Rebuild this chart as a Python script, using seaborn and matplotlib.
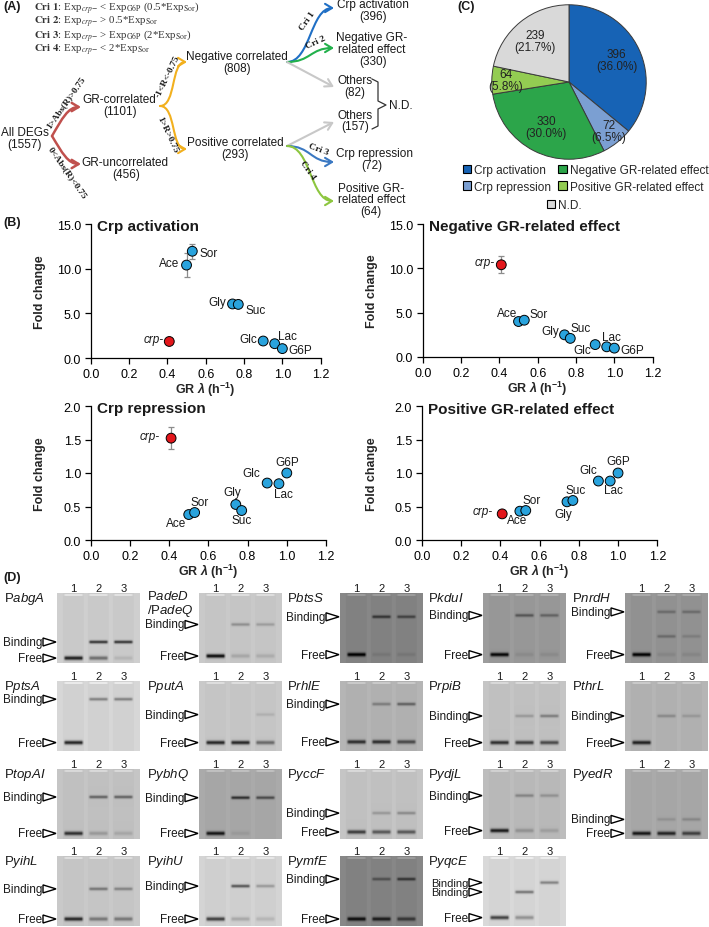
import numpy as np
import pandas as pd
import matplotlib
matplotlib.use('Agg')
import matplotlib.pyplot as plt
import seaborn as sns
from matplotlib.patches import FancyArrowPatch, Polygon, Patch
from matplotlib.path import Path
from matplotlib.ticker import FormatStrFormatter

sns.set_theme(style='ticks')
plt.rcParams['font.family'] = ['Liberation Sans', 'DejaVu Sans']
plt.rcParams['mathtext.fontset'] = 'custom'
plt.rcParams['mathtext.rm'] = 'Liberation Sans'
plt.rcParams['mathtext.it'] = 'Liberation Sans:italic'
plt.rcParams['mathtext.bf'] = 'Liberation Sans:bold'
plt.rcParams['mathtext.bfit'] = 'Liberation Sans:italic:bold'

# ---------------- data ----------------
# (A) tree counts
n_all, n_gr_corr, n_gr_uncorr = 1557, 1101, 456
n_neg, n_pos = 808, 293
n_crp_act, n_neg_gr, n_others_neg = 396, 330, 82
n_others_pos, n_crp_rep, n_pos_gr = 157, 72, 64

# (B) scatter data
carbon = ['crp-', 'Ace', 'Sor', 'Gly', 'Suc', 'Glc', 'Lac', 'G6P']
gr_rate = [0.41, 0.50, 0.53, 0.74, 0.77, 0.90, 0.96, 1.00]
fc_crp_act = [1.85, 10.4, 11.95, 6.05, 6.0, 1.9, 1.6, 1.05]
err_crp_act = [0.15, 1.3, 0.85, 0.15, 0.15, 0.1, 0.1, 0.05]
fc_neg_gr = [10.4, 4.0, 4.15, 2.5, 2.1, 1.4, 1.15, 1.0]
err_neg_gr = [0.95, 0.2, 0.2, 0.15, 0.15, 0.1, 0.1, 0.05]
fc_crp_rep = [1.52, 0.38, 0.41, 0.53, 0.44, 0.85, 0.84, 1.0]
err_crp_rep = [0.16, 0.03, 0.03, 0.03, 0.03, 0.03, 0.03, 0.02]
fc_pos_gr = [0.39, 0.43, 0.44, 0.57, 0.59, 0.88, 0.88, 1.0]
err_pos_gr = [0.04, 0.03, 0.03, 0.03, 0.03, 0.03, 0.03, 0.02]

# (C) pie
pie_cats = ['Crp activation', 'Crp repression', 'Negative GR-related effect',
            'Positive GR-related effect', 'N.D.']
pie_counts = [396, 72, 330, 64, 239]

# (D) gels
gel_names = ['abgA', 'adeD', 'btsS', 'kduI', 'nrdH',
             'ptsA', 'putA', 'rhlE', 'rpiB', 'thrL',
             'topAI', 'ybhQ', 'yccF', 'ydjL', 'yedR',
             'yihL', 'yihU', 'ymfE', 'yqcE']
gel_bg = [0.80, 0.78, 0.52, 0.60, 0.58,
          0.83, 0.78, 0.70, 0.76, 0.70,
          0.76, 0.66, 0.76, 0.73, 0.66,
          0.78, 0.82, 0.52, 0.84]
gel_free_pos = [0.93, 0.90, 0.88, 0.88, 0.88,
                0.88, 0.88, 0.87, 0.88, 0.88,
                0.92, 0.92, 0.90, 0.88, 0.92,
                0.90, 0.90, 0.90, 0.88]
gel_free_int = [[0.65, 0.35, 0.08], [0.7, 0.12, 0.1], [0.5, 0.05, 0.05], [0.55, 0.05, 0.05], [0.55, 0.05, 0.05],
                [0.65, 0.0, 0.0], [0.6, 0.6, 0.35], [0.5, 0.5, 0.4], [0.55, 0.5, 0.45], [0.55, 0.0, 0.0],
                [0.55, 0.15, 0.1], [0.55, 0.05, 0.0], [0.5, 0.4, 0.4], [0.6, 0.15, 0.1], [0.55, 0.5, 0.4],
                [0.6, 0.3, 0.3], [0.55, 0.15, 0.1], [0.45, 0.4, 0.3], [0.55, 0.25, 0.0]]
# (position, lane intensities, has label)
gel_bind = [[(0.70, [0, 0.55, 0.55], True)],
            [(0.45, [0, 0.2, 0.15], True)],
            [(0.34, [0, 0.3, 0.25], True)],
            [(0.32, [0, 0.25, 0.2], True)],
            [(0.27, [0, 0.15, 0.15], True), (0.62, [0, 0.15, 0.08], False)],
            [(0.26, [0, 0.3, 0.3], True)],
            [(0.48, [0, 0.0, 0.08], True)],
            [(0.33, [0, 0.2, 0.3], True)],
            [(0.50, [0, 0.15, 0.25], True)],
            [(0.50, [0, 0.15, 0.1], True)],
            [(0.40, [0, 0.35, 0.35], True)],
            [(0.41, [0, 0.45, 0.35], True)],
            [(0.63, [0, 0.15, 0.2], True)],
            [(0.38, [0, 0.2, 0.15], True)],
            [(0.72, [0, 0.08, 0.12], True)],
            [(0.47, [0, 0.3, 0.25], True)],
            [(0.43, [0, 0.45, 0.2], True)],
            [(0.33, [0, 0.2, 0.3], True)],
            [(0.38, [0, 0.0, 0.3], True), (0.515, [0, 0.35, 0.0], True)]]
lane_labels = ['1', '2', '3']

# ---------------- figure ----------------
W, H = 709, 928
fig = plt.figure(figsize=(W / 100, H / 100), dpi=100)


def fa(x0, y0, x1, y1):
    return [x0 / W, 1 - y1 / H, (x1 - x0) / W, (y1 - y0) / H]


ov = fig.add_axes([0, 0, 1, 1])
ov.set_xlim(0, W)
ov.set_ylim(H, 0)
ov.axis('off')

TXT = '#1a1a1a'
for lab, (x, y) in {'(A)': (3, 7), '(B)': (3, 223), '(C)': (457, 7), '(D)': (3, 578)}.items():
    ov.text(x, y, lab, fontsize=9, fontweight='bold', va='center', ha='left', color=TXT)

# ---- (A) criteria
cri_lines = [r'$\mathbf{Cri\ 1}$: Exp$_{\mathit{crp}\mathrm{-}}$ < Exp$_{\mathrm{G6P}}$ (0.5*Exp$_{\mathrm{Sor}}$)',
             r'$\mathbf{Cri\ 2}$: Exp$_{\mathit{crp}\mathrm{-}}$ > 0.5*Exp$_{\mathrm{Sor}}$',
             r'$\mathbf{Cri\ 3}$: Exp$_{\mathit{crp}\mathrm{-}}$ > Exp$_{\mathrm{G6P}}$ (2*Exp$_{\mathrm{Sor}}$)',
             r'$\mathbf{Cri\ 4}$: Exp$_{\mathit{crp}\mathrm{-}}$ < 2*Exp$_{\mathrm{Sor}}$']
for i, s in enumerate(cri_lines):
    ov.text(34, 8 + 14 * i, s, fontsize=7.8, family='Liberation Serif', math_fontfamily='stix',
            va='center', ha='left', color='#333333')


def arrow(p0, p1, color, kind='s', lw=1.5):
    (x0, y0), (x1, y1) = p0, p1
    dx, dy = x1 - x0, y1 - y0
    if kind == 's':
        verts = [(x0, y0), (x0 + 0.5 * dx, y0), (x1 - 0.5 * dx, y1), (x1, y1)]
    elif kind == 'v':
        verts = [(x0, y0), (x0 + 0.35 * dx, y0 + 0.6 * dy), (x1 - 0.45 * dx, y1), (x1, y1)]
    elif kind == 'b':
        verts = [(x0, y0), (x0 + 0.6 * dx, y0), (x0 + 0.4 * dx, y1), (x1, y1)]
    else:
        verts = [(x0, y0), (x0 + dx / 3, y0 + dy / 3), (x0 + 2 * dx / 3, y0 + 2 * dy / 3), (x1, y1)]
    path = Path(verts, [Path.MOVETO, Path.CURVE4, Path.CURVE4, Path.CURVE4])
    ov.add_patch(FancyArrowPatch(path=path, arrowstyle='->,head_length=0.5,head_width=0.3',
                                 mutation_scale=10, color=color, lw=lw))


RED, ORG = '#c0504d', '#f2b01e'
BLU, GRN, GRY, BLU2, LGR = '#1f6fc5', '#22b14c', '#c8c8c8', '#3a78c2', '#8dc63f'
arrow((52, 137), (81, 108), RED, 'v', 1.8)
arrow((52, 137), (81, 165), RED, 'v', 1.8)
arrow((160, 107), (187, 63), ORG, 'b')
arrow((160, 107), (187, 150), ORG, 'b')
arrow((287, 63), (334, 9), BLU, 's')
arrow((287, 63), (334, 49), GRN, 's')
arrow((287, 63), (334, 88), GRY, 'l')
arrow((287, 147), (334, 123), GRY, 'l')
arrow((287, 147), (334, 163), BLU2, 's')
arrow((287, 147), (334, 202), LGR, 's')

serif_b = dict(family='Liberation Serif', fontweight='bold', fontsize=6.8, ha='center', va='center',
               rotation_mode='anchor', color=TXT)
ov.text(66, 103, '1>Abs(R)>0.75', rotation=55, **serif_b)
ov.text(67, 173, '0<Abs(R)<0.75', rotation=-55, **serif_b)
ov.text(168, 77, '-1<R<-0.75', rotation=64, **serif_b)
ov.text(167, 135, '1>R>0.75', rotation=-65, **serif_b)
ov.text(307, 21, 'Cri 1', rotation=55, **serif_b)
ov.text(316, 43, 'Cri 2', rotation=25, **serif_b)
ov.text(318, 150, 'Cri 3', rotation=-20, **serif_b)
ov.text(308, 170, 'Cri 4', rotation=-55, **serif_b)

tree_txt = [(25, 133, 'All DEGs'), (25, 145, f'({n_all})'),
            (119, 100, 'GR-correlated'), (120, 112, f'({n_gr_corr})'),
            (125, 163, 'GR-uncorrelated'), (126, 175, f'({n_gr_uncorr})'),
            (237, 57, 'Negative correlated'), (237, 69, f'({n_neg})'),
            (235, 143, 'Positive correlated'), (235, 155, f'({n_pos})'),
            (373, 5, 'Crp activation'), (373, 17, f'({n_crp_act})'),
            (372, 38, 'Negative GR-'), (372, 50, 'related effect'), (373, 62, f'({n_neg_gr})'),
            (355, 81, 'Others'), (355, 93, f'({n_others_neg})'),
            (355, 116, 'Others'), (355, 127, f'({n_others_pos})'),
            (375, 154, 'Crp repression'), (372, 166, f'({n_crp_rep})'),
            (371, 189, 'Positive GR-'), (372, 200, 'related effect'), (371, 212, f'({n_pos_gr})')]
for x, y, s in tree_txt:
    ov.text(x, y, s, fontsize=8.5, ha='center', va='center', color=TXT)
ov.plot([372, 378, 378, 386, 378, 378, 372], [80, 83, 102, 106, 110, 127, 130], color='#333333', lw=0.9)
ov.text(389, 106, 'N.D.', fontsize=8.5, ha='left', va='center', color=TXT)

# ---- (C) pie
pie_colors = ['#1763b5', '#7b9fd2', '#2ca54a', '#93cc52', '#d9d9d9']
axp = fig.add_axes(fa(491, 5, 647, 161))
wedges, _ = axp.pie(pie_counts, colors=pie_colors, startangle=90, counterclock=False,
                    wedgeprops=dict(edgecolor='#3a3a3a', linewidth=0.7))
axp.set_xlim(-1.01, 1.01)
axp.set_ylim(-1.01, 1.01)
label_r = [0.68, 0.82, 0.65, 0.82, 0.69]
tot = sum(pie_counts)
for w, c, r in zip(wedges, pie_counts, label_r):
    ang = np.deg2rad((w.theta1 + w.theta2) / 2)
    axp.text(r * np.cos(ang), r * np.sin(ang), f'{c}\n({100 * c / tot:.1f}%)', ha='center', va='center',
             fontsize=8.5, linespacing=1.0, color='#222222')
handles = [Patch(facecolor=col, edgecolor='black', linewidth=0.8) for col in pie_colors]
fig.legend([handles[0], handles[1], handles[2], handles[3]],
           [pie_cats[0], pie_cats[1], pie_cats[2], pie_cats[3]], ncol=2, loc='upper left',
           bbox_to_anchor=(463 / W, 1 - 165 / H), frameon=False, fontsize=8.5, handlelength=0.7,
           handleheight=0.7, handletextpad=0.25, columnspacing=0.6, borderpad=0, borderaxespad=0,
           labelspacing=0.4)
fig.legend([handles[4]], [pie_cats[4]], loc='upper left', bbox_to_anchor=(547 / W, 1 - 200 / H),
           frameon=False, fontsize=8.5, handlelength=0.7, handleheight=0.7, handletextpad=0.25,
           borderpad=0, borderaxespad=0)

# ---- (B) scatter panels
px2pt = 0.72
offsets = {
    'act': {'crp-': (-6, 2, 'right'), 'Ace': (-7, 2, 'right'), 'Sor': (7, -2, 'left'),
            'Gly': (-6, 2, 'right'), 'Suc': (7, -6, 'left'), 'Glc': (-6, 2, 'right'),
            'Lac': (3, 8, 'left'), 'G6P': (6, -1.5, 'left')},
    'neg': {'crp-': (-7, 2.5, 'right'), 'Ace': (-1, 8.7, 'right'), 'Sor': (5, 6, 'left'),
            'Gly': (-5, 3.4, 'right'), 'Suc': (0, 10, 'left'), 'Glc': (-4.3, -5, 'right'),
            'Lac': (-4.7, 9.4, 'left'), 'G6P': (5.7, -1.7, 'left')},
    'rep': {'crp-': (-11, 2.6, 'right'), 'Ace': (-2.3, -8, 'right'), 'Sor': (5, 11, 'center'),
            'Gly': (-3.7, 12, 'center'), 'Suc': (0, -9.4, 'center'), 'Glc': (-7.4, 10, 'right'),
            'Lac': (4, -10, 'center'), 'G6P': (0, 11, 'center')},
    'pos': {'crp-': (-9.4, 3, 'right'), 'Ace': (-2.5, -8.7, 'center'), 'Sor': (5.7, 11, 'center'),
            'Gly': (-3.3, -11.7, 'center'), 'Suc': (2.5, 10, 'center'), 'Glc': (-1, 11, 'right'),
            'Lac': (3, -9, 'center'), 'G6P': (0, 11.6, 'center')},
}
panels = [('Crp activation', fc_crp_act, err_crp_act, 15, [0, 5, 10, 15], 'act', (90.7, 225, 320.7, 359), 46),
          ('Negative GR-related effect', fc_neg_gr, err_neg_gr, 15, [0, 5, 10, 15], 'neg', (422.7, 225, 652.7, 358), 378),
          ('Crp repression', fc_crp_rep, err_crp_rep, 2, [0, 0.5, 1, 1.5, 2], 'rep', (90.7, 407, 326, 541), 46),
          ('Positive GR-related effect', fc_pos_gr, err_pos_gr, 2, [0, 0.5, 1, 1.5, 2], 'pos', (421.7, 407, 657.3, 541), 378)]

xlabel_str = r'GR $\mathbfit{\lambda}$ (h$^{\mathbf{-1}}$)'

for title, fc, err, ymax, yt, key, box, ylab_x in panels:
    ax = fig.add_axes(fa(*box))
    df = pd.DataFrame({'carbon': carbon, 'gr': gr_rate, 'fc': fc, 'err': err})
    df['group'] = np.where(df['carbon'] == 'crp-', 'crp-', 'WT')
    ax.errorbar(df['gr'], df['fc'], yerr=df['err'], fmt='none', ecolor='#8c8c8c', elinewidth=0.9,
                capsize=2.5, capthick=0.9, zorder=2)
    sns.scatterplot(data=df, x='gr', y='fc', hue='group', palette={'WT': '#29a3dd', 'crp-': '#e3161b'},
                    s=50, edgecolor='black', linewidth=0.7, legend=False, ax=ax, zorder=3)
    for _, r in df.iterrows():
        dx, dy, ha = offsets[key][r['carbon']]
        ax.annotate(r['carbon'], (r['gr'], r['fc']), xytext=(dx * px2pt, dy * px2pt), textcoords='offset points',
                    ha=ha, va='center', fontsize=8.5, color=TXT,
                    fontstyle='italic' if r['carbon'] == 'crp-' else 'normal')
    ax.set_xlim(0, 1.2)
    ax.set_ylim(0, ymax)
    ax.set_xticks([0, 0.2, 0.4, 0.6, 0.8, 1.0, 1.2])
    ax.set_yticks(yt)
    ax.xaxis.set_major_formatter(FormatStrFormatter('%.1f'))
    ax.yaxis.set_major_formatter(FormatStrFormatter('%.1f'))
    ax.tick_params(direction='out', length=4, width=0.9, labelsize=9, colors='black', pad=3)
    for sp in ['left', 'bottom']:
        ax.spines[sp].set_linewidth(0.9)
        ax.spines[sp].set_color('black')
    sns.despine(ax=ax)
    ax.set_facecolor('none')
    ax.set_xlabel(xlabel_str, fontsize=9, fontweight='bold')
    ax.xaxis.set_label_coords(0.5, -22.0 / (box[3] - box[1]))
    ax.set_ylabel('Fold change', fontsize=9, fontweight='bold')
    ax.yaxis.set_label_coords(-(box[0] - ylab_x) / (box[2] - box[0]), 0.5)
    ax.text(6 / (box[2] - box[0]), 1 - 2.5 / (box[3] - box[1]), title, transform=ax.transAxes,
            fontsize=11, fontweight='bold', ha='left', va='center', color=TXT)

# ---- (D) gels
col_x = [57, 199, 340, 483, 625]
row_y = [594, 682, 770, 857]
lab_x = [4, 147, 287, 428, 572]
GW, GH = 83, 70
lane_c = [0.2, 0.5, 0.8]
lane_w = 0.25


def gel_image(bg, free_pos, free_int, binds):
    img = np.full((GH, GW), bg, dtype=float)
    yy = np.arange(GH)[:, None] + 0.5
    xx = (np.arange(GW)[None, :] + 0.5) / GW
    inlane = np.zeros((1, GW), dtype=bool)
    for c in lane_c:
        inlane |= np.abs(xx - c) < lane_w / 2
    img += np.where(inlane, -0.01, 0.01)
    for li, c in enumerate(lane_c):
        m = np.clip(1 - np.abs(xx - c) / (lane_w / 2), 0, 1)
        m = np.clip(m * 4, 0, 1)
        img -= free_int[li] * np.exp(-((yy - free_pos * GH) / 2.0) ** 2) * m
        for pos, ints, _ in binds:
            img -= ints[li] * np.exp(-((yy - pos * GH) / 1.6) ** 2) * m
        img[1:3, :] += 0.10 * m[0]
    return np.clip(img, 0, 1)


def tri(x, y):
    ov.add_patch(Polygon([(x - 14, y - 4), (x - 14, y + 4), (x - 1, y)], closed=True,
                         facecolor='white', edgecolor='black', lw=1.0, zorder=5))


for i, name in enumerate(gel_names):
    r, c = divmod(i, 5)
    gx, gy = col_x[c], row_y[r]
    img = gel_image(gel_bg[i], gel_free_pos[i], gel_free_int[i], gel_bind[i])
    ov.imshow(img, cmap='gray', vmin=0, vmax=1, extent=(gx, gx + GW, gy + GH, gy), aspect='auto',
              interpolation='bilinear', zorder=2)
    for li, lc in enumerate(lane_c):
        ov.text(gx + lc * GW, gy - 5, lane_labels[li], fontsize=8, ha='center', va='center', color=TXT)
    if name == 'adeD':
        ov.text(lab_x[c], gy + 3, r'P$\mathit{adeD}$', fontsize=9.5, ha='left', va='center', color=TXT)
        ov.text(lab_x[c], gy + 17, r'/P$\mathit{adeQ}$', fontsize=9.5, ha='left', va='center', color=TXT)
    else:
        ov.text(lab_x[c], gy + 5, 'P$\\mathit{' + name + '}$', fontsize=9.5, ha='left', va='center', color=TXT)
    nb = sum(1 for b in gel_bind[i] if b[2])
    for pos, ints, labeled in gel_bind[i]:
        if labeled:
            yb = gy + pos * GH
            ov.text(gx - 15, yb, 'Binding', fontsize=8.5 if nb == 1 else 8, ha='right', va='center',
                    color=TXT, linespacing=0.9)
            tri(gx, yb)
    yf = gy + gel_free_pos[i] * GH
    ov.text(gx - 15, yf, 'Free', fontsize=8.5, ha='right', va='center', color=TXT)
    tri(gx, yf)

ov.set_xlim(0, W)
ov.set_ylim(H, 0)

fig.savefig('out.png', dpi=100)
